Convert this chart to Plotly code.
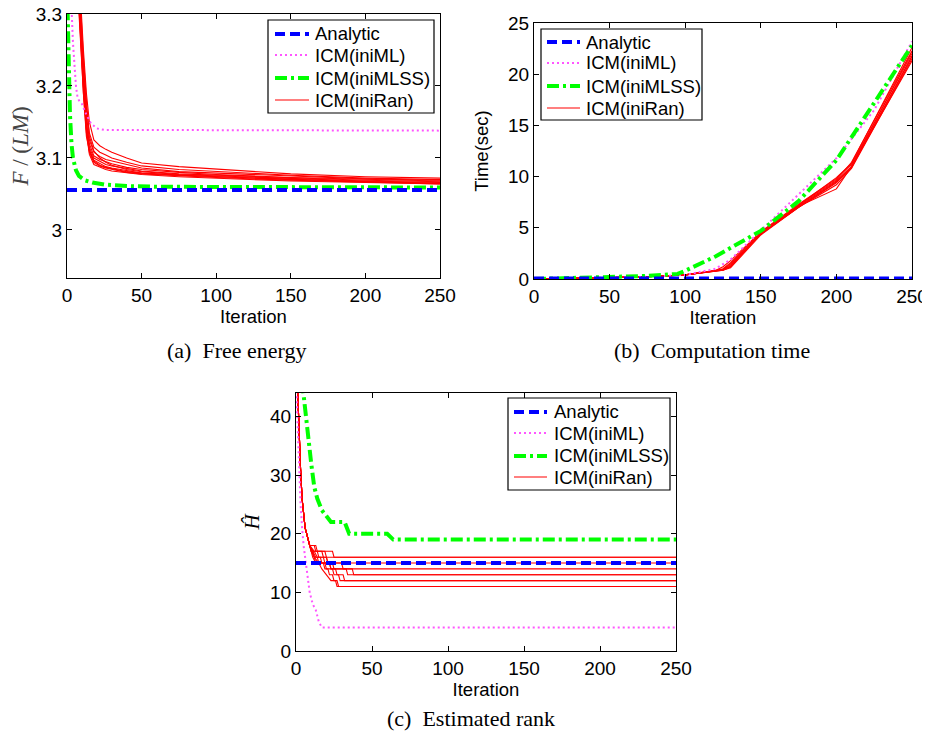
import plotly.graph_objects as go

# ---------------- data ----------------
# (a) free energy
iters_full = [0, 250]
analytic_F = [3.0556, 3.0556]

iniML_F_x = [0, 2, 4, 5, 6, 7, 8, 10, 13, 16, 20, 25, 250]
iniML_F_y = [3.50, 3.36, 3.26, 3.22, 3.20, 3.185, 3.18, 3.175, 3.16, 3.148, 3.141, 3.139, 3.138]

iniMLSS_F_x = [0, 1, 2, 3, 4, 6, 8, 12, 17, 25, 40, 60, 250]
iniMLSS_F_y = [3.34, 3.24, 3.16, 3.12, 3.10, 3.083, 3.075, 3.069, 3.066, 3.063, 3.061, 3.060, 3.059]

iniRan_F_x = [7, 9, 11, 13, 15, 18, 22, 26, 30, 40, 50, 75, 100, 150, 200, 250]
iniRan_F_y = [
    [3.40, 3.32, 3.25, 3.19, 3.15, 3.125, 3.117, 3.112, 3.108, 3.100, 3.093, 3.088, 3.085, 3.078, 3.074, 3.072],
    [3.38, 3.30, 3.23, 3.17, 3.135, 3.115, 3.108, 3.104, 3.100, 3.094, 3.089, 3.084, 3.081, 3.076, 3.072, 3.070],
    [3.36, 3.28, 3.21, 3.16, 3.125, 3.108, 3.102, 3.098, 3.096, 3.090, 3.086, 3.081, 3.079, 3.074, 3.071, 3.069],
    [3.37, 3.29, 3.22, 3.15, 3.120, 3.103, 3.098, 3.095, 3.092, 3.087, 3.084, 3.080, 3.077, 3.073, 3.070, 3.068],
    [3.35, 3.27, 3.20, 3.14, 3.115, 3.100, 3.095, 3.091, 3.089, 3.085, 3.082, 3.078, 3.076, 3.072, 3.069, 3.067],
    [3.39, 3.31, 3.24, 3.18, 3.130, 3.110, 3.100, 3.094, 3.090, 3.084, 3.081, 3.077, 3.075, 3.071, 3.068, 3.066],
    [3.34, 3.26, 3.19, 3.13, 3.110, 3.097, 3.092, 3.088, 3.086, 3.082, 3.079, 3.076, 3.074, 3.070, 3.067, 3.065],
    [3.36, 3.27, 3.20, 3.14, 3.108, 3.094, 3.089, 3.086, 3.084, 3.080, 3.078, 3.075, 3.073, 3.069, 3.066, 3.064],
    [3.35, 3.26, 3.19, 3.135, 3.105, 3.091, 3.087, 3.084, 3.082, 3.079, 3.077, 3.074, 3.072, 3.068, 3.066, 3.064],
    [3.37, 3.28, 3.21, 3.15, 3.112, 3.096, 3.090, 3.087, 3.085, 3.081, 3.079, 3.076, 3.074, 3.070, 3.067, 3.065],
]

# (b) computation time
analytic_T = [0.05, 0.05]

iniML_T_x = [0, 25, 50, 75, 100, 120, 130, 150, 175, 200, 225, 250]
iniML_T_y = [0, 0.05, 0.12, 0.22, 0.40, 1.0, 1.9, 4.7, 8.3, 11.8, 16.5, 23.2]

iniMLSS_T_x = [0, 25, 50, 75, 95, 100, 120, 150, 175, 200, 225, 250]
iniMLSS_T_y = [0, 0.07, 0.15, 0.30, 0.50, 0.80, 2.2, 4.7, 7.6, 11.6, 17.2, 22.8]

iniRan_T_x = [0, 25, 50, 75, 100, 120, 125, 130, 150, 175, 200, 210, 250]
iniRan_T_y = [
    [0, 0.05, 0.12, 0.22, 0.40, 0.80, 0.95, 1.5, 4.6, 7.2, 9.9, 11.3, 22.6],
    [0, 0.05, 0.12, 0.22, 0.40, 0.78, 0.90, 1.3, 4.4, 7.1, 9.6, 11.0, 22.2],
    [0, 0.05, 0.12, 0.22, 0.40, 0.82, 1.20, 1.8, 4.6, 7.3, 9.8, 11.2, 22.0],
    [0, 0.05, 0.12, 0.22, 0.40, 0.75, 0.85, 1.1, 4.3, 7.0, 9.4, 10.9, 21.8],
    [0, 0.05, 0.12, 0.22, 0.40, 0.80, 0.90, 1.4, 4.4, 7.0, 9.2, 10.8, 21.5],
    [0, 0.05, 0.12, 0.22, 0.40, 0.78, 0.88, 1.2, 4.5, 7.1, 8.8, 11.0, 21.3],
    [0, 0.05, 0.12, 0.22, 0.40, 0.80, 1.00, 1.6, 4.5, 7.2, 9.7, 11.4, 22.3],
    [0, 0.05, 0.12, 0.22, 0.40, 0.76, 0.86, 1.2, 4.4, 7.0, 9.5, 10.9, 21.7],
]

# (c) estimated rank
analytic_H = [15, 15]

iniML_H_x = [0, 1, 2, 3, 4, 5, 7, 9, 11, 13, 15, 17, 250]
iniML_H_y = [46, 38, 30, 25, 21, 18, 14, 10, 8, 7, 5, 4, 4]

iniMLSS_H_x = [4, 6, 8, 10, 12, 14, 17, 20, 23, 32, 35, 60, 64, 250]
iniMLSS_H_y = [46, 41, 36, 32, 28, 26, 24, 23, 22, 22, 20, 20, 19, 19]

iniRan_H_x = [
    [0, 1, 2, 3, 4, 5, 6, 7, 8, 9, 13, 14, 24, 25, 250],
    [0, 1, 2, 3, 4, 5, 6, 7, 8, 9, 10, 17, 18, 20, 21, 250],
    [0, 1, 2, 3, 4, 5, 6, 7, 8, 9, 11, 12, 18, 19, 22, 23, 250],
    [0, 1, 2, 3, 4, 5, 6, 7, 8, 9, 10, 14, 15, 20, 21, 30, 31, 37, 38, 250],
    [0, 1, 2, 3, 4, 5, 6, 7, 8, 9, 11, 13, 16, 17, 24, 25, 33, 34, 250],
    [0, 1, 2, 3, 4, 5, 6, 7, 8, 9, 10, 12, 13, 22, 23, 26, 27, 31, 32, 250],
    [0, 1, 2, 3, 4, 5, 6, 7, 8, 9, 12, 14, 15, 19, 20, 24, 25, 28, 29, 250],
    [0, 1, 2, 3, 4, 5, 6, 7, 8, 9, 11, 13, 18, 19, 21, 22, 24, 25, 27, 28, 250],
    [0, 1, 2, 3, 4, 5, 6, 7, 8, 9, 12, 15, 17, 20, 23, 26, 27, 250],
    [0, 1, 2, 3, 4, 5, 6, 7, 8, 9, 12, 13, 19, 20, 250],
]
iniRan_H_y = [
    [52, 44, 37, 31, 26, 23, 21, 20, 19, 18, 18, 17, 17, 16, 16],
    [52, 44, 37, 31, 26, 23, 21, 20, 19, 18, 17, 17, 16, 16, 15, 15],
    [52, 44, 37, 31, 26, 23, 21, 20, 19, 18, 17, 16, 16, 15, 15, 14, 14],
    [52, 44, 37, 31, 26, 23, 21, 20, 19, 18, 17, 17, 16, 16, 15, 15, 14, 14, 13, 13],
    [52, 44, 37, 31, 26, 23, 21, 20, 19, 18, 17, 16, 16, 15, 15, 14, 14, 13, 13],
    [52, 44, 37, 31, 26, 23, 21, 20, 19, 18, 17, 16, 15, 15, 14, 14, 13, 13, 12, 12],
    [52, 44, 37, 31, 26, 23, 21, 20, 19, 18, 17, 16, 15, 15, 14, 14, 13, 13, 12, 12],
    [52, 44, 37, 31, 26, 23, 21, 20, 19, 18, 16, 15, 15, 14, 14, 13, 13, 12, 12, 11, 11],
    [52, 44, 37, 31, 26, 23, 21, 20, 19, 18, 16, 15, 14, 13, 12, 12, 11, 11],
    [52, 44, 37, 31, 26, 23, 21, 20, 19, 18, 18, 17, 17, 16, 16],
]

legend_names = ["Analytic", "ICM(iniML)", "ICM(iniMLSS)", "ICM(iniRan)"]
captions = ["(a)\u00a0 Free energy", "(b)\u00a0 Computation time", "(c)\u00a0 Estimated rank"]

# ---------------- styles ----------------
BLUE, MAG, GREEN, RED = "#0000FF", "#FF55FF", "#00FF00", "#FF0000"
st_an = dict(color=BLUE, width=4, dash="10px,5px")
st_ml = dict(color=MAG, width=2, dash="2px,3px")
st_ss = dict(color=GREEN, width=4, dash="12px,4px,3px,4px")
st_ran = dict(color=RED, width=1.1)
styles = [st_an, st_ml, st_ss, st_ran]
SANS = "Liberation Sans"
SERIF = "Liberation Serif"

# page has an 8px body margin: figure is offset by 8px and fills to the window edge
OFF = 8
W, H = 930 - OFF, 738 - OFF
def px(P):
    return (P - OFF) / W
def py(P):
    return (H + OFF - P) / H
def dx(a, b):
    return [px(a), px(b)]
def dy(top, bot):
    return [py(bot), py(top)]

fig = go.Figure()

panels = [
    ("x", "y", analytic_F, iniML_F_x, iniML_F_y, iniMLSS_F_x, iniMLSS_F_y,
     [iniRan_F_x] * len(iniRan_F_y), iniRan_F_y),
    ("x2", "y2", analytic_T, iniML_T_x, iniML_T_y, iniMLSS_T_x, iniMLSS_T_y,
     [iniRan_T_x] * len(iniRan_T_y), iniRan_T_y),
    ("x3", "y3", analytic_H, iniML_H_x, iniML_H_y, iniMLSS_H_x, iniMLSS_H_y,
     iniRan_H_x, iniRan_H_y),
]

for xa, ya, an, mlx, mly, ssx, ssy, rxs, rys in panels:
    common = dict(xaxis=xa, yaxis=ya, mode="lines", showlegend=False)
    for rx, ry in zip(rxs, rys):
        fig.add_trace(go.Scatter(x=rx, y=ry, name=legend_names[3], line=st_ran, **common))
    fig.add_trace(go.Scatter(x=mlx, y=mly, name=legend_names[1], line=st_ml, **common))
    fig.add_trace(go.Scatter(x=ssx, y=ssy, name=legend_names[2], line=st_ss, **common))
    fig.add_trace(go.Scatter(x=iters_full, y=an, name=legend_names[0], line=st_an, **common))

axis_common = dict(showline=True, linecolor="black", linewidth=1.2, mirror="ticks",
                   ticks="inside", ticklen=5, tickcolor="black", showgrid=False,
                   zeroline=False, automargin=False, ticklabeloverflow="allow",
                   tickfont=dict(family=SANS, size=19, color="black"))
xt = dict(text="Iteration", font=dict(family=SANS, size=18.5, color="black"), standoff=0)

fig.update_layout(
    template="none",
    width=W, height=H, margin=dict(l=0, r=0, t=0, b=0, autoexpand=False),
    paper_bgcolor="white", plot_bgcolor="white", showlegend=False,
    xaxis=dict(domain=dx(67, 440), range=[0, 250], dtick=50, anchor="y", title=xt, **axis_common),
    yaxis=dict(domain=dy(14, 278), range=[2.9333, 3.3], tickvals=[3, 3.1, 3.2, 3.3],
               ticktext=["3", "3.1", "3.2", "3.3"], anchor="x",
               title=dict(text="<i>F</i> / (<i>LM</i>)", font=dict(family=SERIF, size=23, color="#444"),
                          standoff=8), **axis_common),
    xaxis2=dict(domain=dx(534, 912), range=[0, 250], dtick=50, anchor="y2", title=xt, **axis_common),
    yaxis2=dict(domain=dy(23, 279), range=[0, 25], dtick=5, anchor="x2",
                title=dict(text="Time(sec)", font=dict(family=SANS, size=18.5, color="black"), standoff=14),
                **axis_common),
    xaxis3=dict(domain=dx(296, 676), range=[0, 250], dtick=50, anchor="y3", title=xt, **axis_common),
    yaxis3=dict(domain=dy(393, 651), range=[0, 44], tickvals=[0, 10, 20, 30, 40], anchor="x3",
                title=dict(text="<i>H\u0302</i>", font=dict(family=SERIF, size=21, color="black"), standoff=4),
                **axis_common),
)

# ---- legends (box, sample lines, labels), positioned in page pixels ----
legend_boxes = [
    # box x0, x1, y0, y1, sample x0, x1, text x, row y centres
    (268, 434, 20, 113, 275, 309, 313, [34, 55, 78, 100]),
    (541, 702, 29, 120, 547, 580, 584, [42, 63, 86, 108]),
    (508, 670, 398, 490, 514, 547, 552, [412, 433, 456, 477]),
]
for bx0, bx1, by0, by1, sx0, sx1, tx, rows in legend_boxes:
    fig.add_shape(type="rect", xref="paper", yref="paper",
                  x0=px(bx0), x1=px(bx1), y0=py(by1), y1=py(by0),
                  line=dict(color="black", width=1.2), fillcolor="white", layer="above")
    for name, st, ry in zip(legend_names, styles, rows):
        fig.add_shape(type="line", xref="paper", yref="paper",
                      x0=px(sx0), x1=px(sx1), y0=py(ry), y1=py(ry),
                      line=dict(color=st["color"], width=st["width"], dash=st.get("dash", "solid")),
                      layer="above")
        fig.add_annotation(text=name, x=px(tx), y=py(ry), xref="paper", yref="paper",
                           showarrow=False, xanchor="left", yanchor="middle",
                           font=dict(family=SANS, size=18.5, color="black"))

cap_pos = [(236, 350), (712, 350), (471, 718)]
for txt, (cx, cy) in zip(captions, cap_pos):
    fig.add_annotation(text=txt, x=px(cx), y=py(cy), xref="paper", yref="paper",
                       showarrow=False, xanchor="center", yanchor="middle",
                       font=dict(family=SERIF, size=22, color="black"))

fig.write_html("out.html")
